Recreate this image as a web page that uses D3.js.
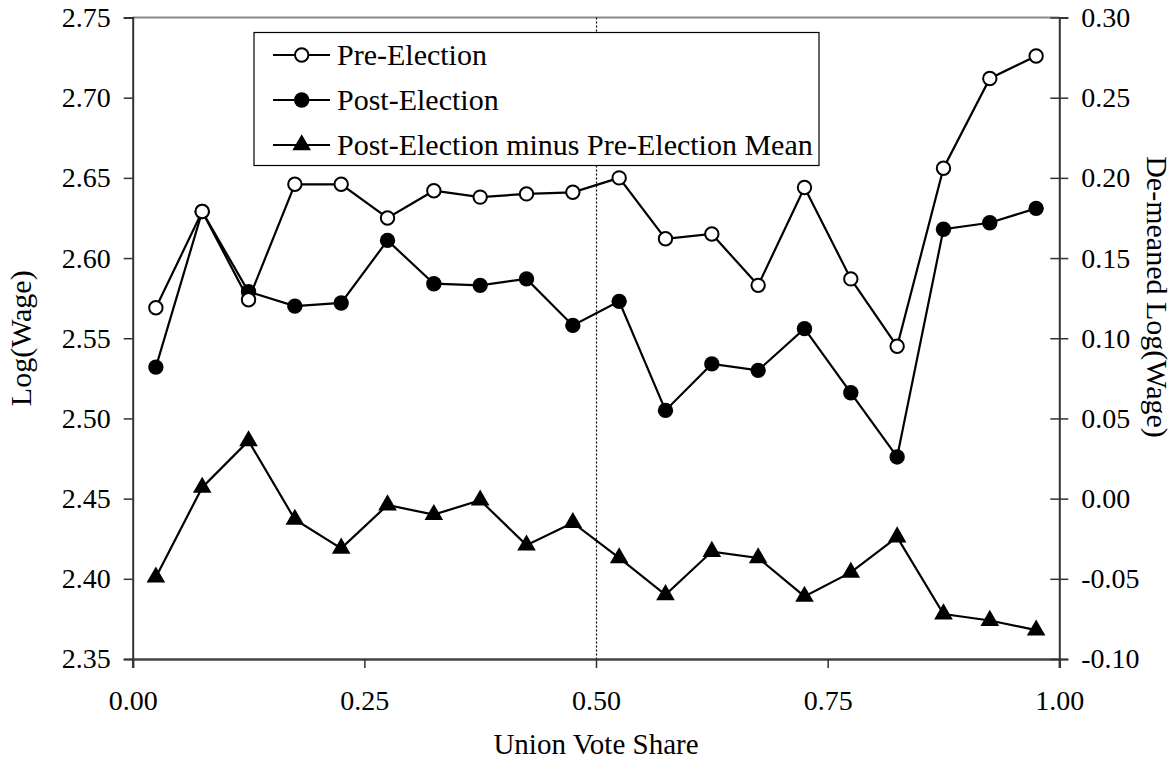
<!DOCTYPE html>
<html><head><meta charset="utf-8">
<script src="https://cdn.jsdelivr.net/npm/d3@7"></script>
<style>
html,body{margin:0;padding:0;background:#fff;}
svg text{font-family:"Liberation Serif","Times New Roman",serif;fill:#000;}
</style></head>
<body>
<svg id="chart" width="1173" height="763"></svg>
<script>
const voteShare = [0.025,0.075,0.125,0.175,0.225,0.275,0.325,0.375,0.425,0.475,0.525,0.575,0.625,0.675,0.725,0.775,0.825,0.875,0.925,0.975];
const preElection = [2.569,2.629,2.574,2.646,2.646,2.625,2.642,2.638,2.640,2.641,2.650,2.612,2.615,2.583,2.644,2.587,2.545,2.656,2.712,2.726];
const postElection = [2.532,2.629,2.579,2.570,2.572,2.611,2.584,2.583,2.587,2.558,2.573,2.505,2.534,2.530,2.556,2.516,2.476,2.618,2.622,2.631];
const demeaned = [-0.049,0.007,0.036,-0.013,-0.031,-0.004,-0.010,-0.001,-0.029,-0.015,-0.037,-0.060,-0.033,-0.037,-0.061,-0.046,-0.024,-0.072,-0.076,-0.082];
const xTicks = [0,0.25,0.5,0.75,1];
const leftTicks = [2.35,2.40,2.45,2.50,2.55,2.60,2.65,2.70,2.75];
const rightTicks = [-0.10,-0.05,0,0.05,0.10,0.15,0.20,0.25,0.30];
const legendLabels = ["Pre-Election","Post-Election","Post-Election minus Pre-Election Mean"];

const SERIF = '"Liberation Serif","Times New Roman",serif';
const svg = d3.select("#chart");
const L = 132.7, R = 1059.3, T = 17.5, B = 659;
const x = d3.scaleLinear().domain([0,1]).range([L,R]);
const yL = d3.scaleLinear().domain([2.35,2.75]).range([B,T]);
const yR = d3.scaleLinear().domain([-0.10,0.30]).range([B,T]);

// top border
svg.append("line").attr("x1",L).attr("x2",R).attr("y1",T).attr("y2",T)
  .attr("stroke","#8a8a8a").attr("stroke-width",2);

// dotted line at 0.5
const xm = Math.round(x(0.5)) + 0.5;
svg.append("line").attr("x1",xm).attr("x2",xm).attr("y1",T).attr("y2",B)
  .attr("stroke","#000").attr("stroke-width",1.2).attr("stroke-dasharray","2,2");

// axes
const fmt = d3.format(".2f");
const gx = svg.append("g").attr("transform",`translate(0,${B})`)
  .call(d3.axisBottom(x).tickValues(xTicks).tickFormat(fmt).tickSize(9).tickPadding(22));
const gl = svg.append("g").attr("transform",`translate(${L},0)`)
  .call(d3.axisLeft(yL).tickValues(leftTicks).tickFormat(fmt).tickSize(9).tickPadding(13));
const gr = svg.append("g").attr("transform",`translate(${R},0)`)
  .call(d3.axisRight(yR).tickValues(rightTicks).tickFormat(v => fmt(v).replace("−","-")).tickSize(9).tickPadding(13));
gr.selectAll(".tick line").attr("x1",-9);
[gx,gl,gr].forEach(g=>{
  g.attr("font-family",null).attr("font-size",null);
  g.select(".domain").attr("stroke","#333").attr("stroke-width",2);
  g.selectAll(".tick line").attr("stroke","#333").attr("stroke-width",1.5);
  g.selectAll(".tick text").style("font-size","28px").style("font-family",SERIF).attr("fill","#000");
});
gx.select(".domain").attr("stroke","#444").attr("stroke-width",2.5);
gr.selectAll(".tick text").attr("text-anchor","start");

// axis titles
svg.append("text").attr("x",x(0.5)).attr("y",754).attr("text-anchor","middle")
  .style("font-size","29px").style("font-family",SERIF).text("Union Vote Share");
svg.append("text").attr("transform",`translate(31,${(T+B)/2}) rotate(-90)`).attr("text-anchor","middle")
  .style("font-size","30px").style("font-family",SERIF).text("Log(Wage)");
svg.append("text").attr("transform",`translate(1147,297) rotate(90)`).attr("text-anchor","middle")
  .style("font-size","30px").style("font-family",SERIF).text("De-meaned Log(Wage)");

const line = (ys, ysc) => d3.line().x((d,i)=>x(voteShare[i])).y(d=>ysc(d))(ys);
const tri = d3.symbol().type(d3.symbolTriangle).size(150);

function drawSeries(ys, ysc, kind){
  svg.append("path").attr("d",line(ys,ysc)).attr("fill","none").attr("stroke","#000").attr("stroke-width",2.2);
  const g = svg.append("g");
  ys.forEach((v,i)=>{
    const cx = x(voteShare[i]), cy = ysc(v);
    if(kind==="open") g.append("circle").attr("cx",cx).attr("cy",cy).attr("r",6.7).attr("fill","#fff").attr("stroke","#000").attr("stroke-width",2);
    else if(kind==="filled") g.append("circle").attr("cx",cx).attr("cy",cy).attr("r",7.7).attr("fill","#000");
    else g.append("path").attr("d",tri).attr("transform",`translate(${cx},${cy})`).attr("fill","#000");
  });
}
drawSeries(postElection, yL, "filled");
drawSeries(preElection, yL, "open");
drawSeries(demeaned, yR, "tri");

// legend
const lg = svg.append("g");
lg.append("rect").attr("x",254).attr("y",32.5).attr("width",565).attr("height",133)
  .attr("fill","#fff").attr("stroke","#000").attr("stroke-width",1.2);
const kinds = ["open","filled","tri"];
const rowY = [55,100,145];
legendLabels.forEach((lab,i)=>{
  const yy = rowY[i];
  lg.append("line").attr("x1",273).attr("x2",330).attr("y1",yy).attr("y2",yy).attr("stroke","#000").attr("stroke-width",2.2);
  if(kinds[i]==="open") lg.append("circle").attr("cx",301.7).attr("cy",yy).attr("r",6.7).attr("fill","#fff").attr("stroke","#000").attr("stroke-width",2);
  else if(kinds[i]==="filled") lg.append("circle").attr("cx",301.7).attr("cy",yy).attr("r",7.7).attr("fill","#000");
  else lg.append("path").attr("d",tri).attr("transform",`translate(301.7,${yy})`).attr("fill","#000");
  lg.append("text").attr("x",337).attr("y",yy+10).style("font-size","30px").style("font-family",SERIF).text(lab);
});
</script>
</body></html>
